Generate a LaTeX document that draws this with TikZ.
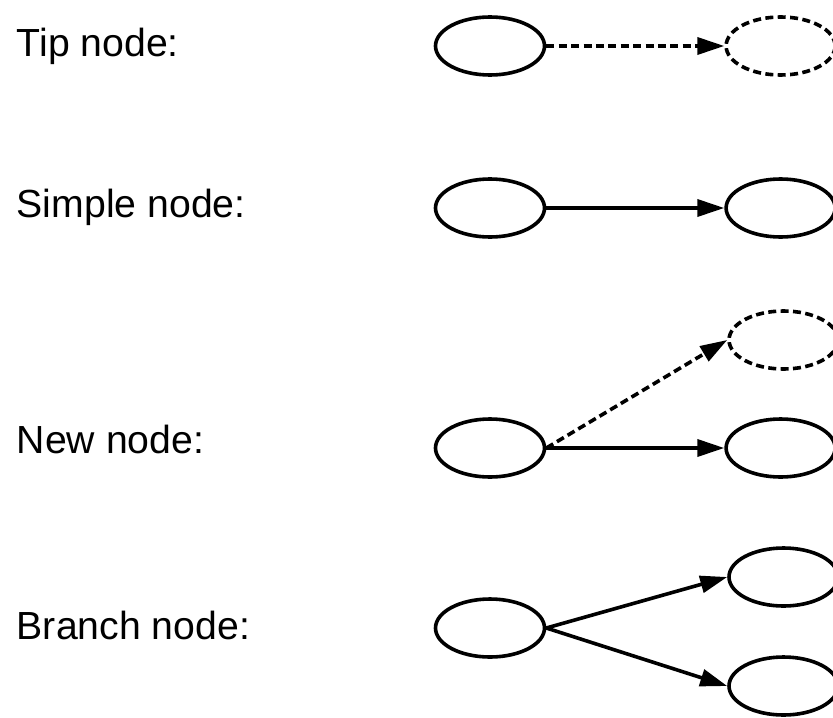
\documentclass[tikz,border=0pt]{standalone}
\usepackage{fontspec}
\setmainfont{Liberation Sans}
\usetikzlibrary{positioning,arrows.meta,shapes.geometric}

\begin{document}
\begin{tikzpicture}[
        x=0.5pt, y=-0.5pt,
        line width=1.8pt,
        node distance=89pt,
        kindtag/.style={anchor=base west, inner sep=0pt, font=\fontsize{19.6}{22}\selectfont},
        state/.style={draw, ellipse, inner sep=0pt, minimum width=54.5pt, minimum height=29pt},
        ghost/.style={state, dash pattern=on 4pt off 2.2pt},
        link/.style={-{Triangle[length=13.5pt, width=8.5pt]}},
        future/.style={link, dash pattern=on 4pt off 2.2pt}
      ]
      \useasboundingbox (0,0) rectangle (833,717);

      % labels
      \node (TT) [kindtag] at (15,57) {Tip node:};
      \node (ST) [kindtag] at (15,217) {Simple node:};
      \node (NT) [kindtag] at (15,453) {New node:};
      \node (BT) [kindtag] at (15,639) {Branch node:};

      % tip
      \node (T1) [state] at (490,46) {};
      \node (T2) [ghost, right=of T1] {};
      \draw[future] (T1.east) -- (T2.west);

      % simple
      \node (S1) [state] at (490,208) {};
      \node (S2) [state, right=of S1] {};
      \draw[link] (S1.east) -- (S2.west);

      % new
      \node (N1) [state] at (490,448) {};
      \node (N2) [state, right=of N1] {};
      \node (N3) [ghost] at (783.5,340) {};
      \draw[link] (N1.east) -- (N2.west);
      \draw[future] (N1.east) -- (N3.west);

      % branch
      \node (B1) [state] at (490,628) {};
      \node (B2) [state] at (783.5,577) {};
      \node (B3) [state] at (783.5,686) {};
      \draw[link] (B1.east) -- (B2.west);
      \draw[link] (B1.east) -- (B3.west);

\end{tikzpicture}
\end{document}
